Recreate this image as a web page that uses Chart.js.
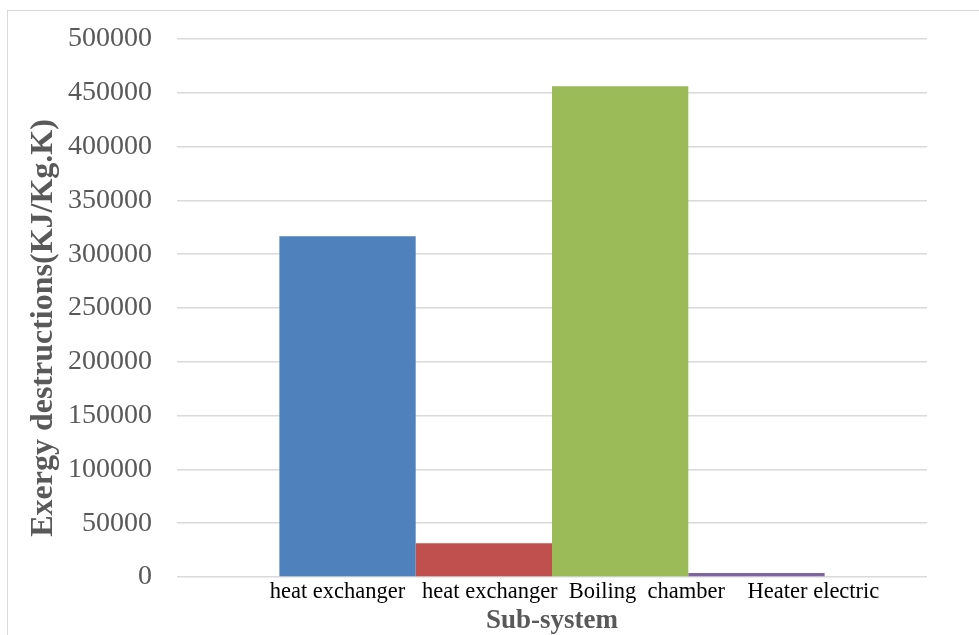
<!DOCTYPE html>
<html>
<head>
<meta charset="utf-8">
<script src="https://cdn.jsdelivr.net/npm/chart.js@4"></script>
<style>
  html, body { margin: 0; padding: 0; background: #fff; overflow: hidden; }
  #wrap { position: relative; width: 979px; height: 635px; }
  #frame { position: absolute; left: 7px; top: 10px; width: 990px; height: 660px;
           border: 1px solid #d9d9d9; pointer-events: none; }
</style>
</head>
<body>
<div id="wrap">
  <div id="frame"></div>
  <canvas id="chart" width="979" height="635"></canvas>
</div>
<script>
const subsystems = ['heat exchanger', 'heat exchanger', 'Boiling  chamber', 'Heater electric'];
const exergyDestruction = [316700, 31300, 456000, 3700];
const barColors = ['#4F81BD', '#C0504D', '#9BBB59', '#8064A2'];
const yMin = 0, yMax = 500000, yStep = 50000;

// all four bars sit in one category, names spelled out underneath
const categoryLabel = '        ' + subsystems[0] + '   ' + subsystems[1] + '  ' + subsystems[2] + '    ' + subsystems[3];

const serif = '"Liberation Serif", "Times New Roman", serif';

const datasets = subsystems.map((name, i) => ({
    label: name,
    data: [exergyDestruction[i]],
    backgroundColor: barColors[i],
    borderWidth: 0,
    categoryPercentage: 0.727,
    barPercentage: 1
}));

new Chart(document.getElementById('chart'), {
    type: 'bar',
    data: { labels: [categoryLabel], datasets: datasets },
    options: {
        responsive: false,
        animation: false,
        layout: { padding: { left: 0, top: 15, right: 52, bottom: 0 } },
        plugins: { legend: { display: false }, tooltip: { enabled: false } },
        scales: {
            x: {
                grid: { display: false, drawTicks: false },
                border: { display: false },
                ticks: {
                    color: '#000',
                    maxRotation: 0,
                    autoSkip: false,
                    padding: 4,
                    font: { family: serif, size: 22.5, lineHeight: 1 }
                },
                title: {
                    display: true,
                    text: 'Sub-system',
                    color: '#595959',
                    padding: { top: 0.5, bottom: 0 },
                    font: { family: serif, size: 27, weight: 'bold', lineHeight: 1 }
                }
            },
            y: {
                min: yMin,
                max: yMax,
                afterFit: (scale) => { scale.width = 177; },
                grid: { color: '#d9d9d9', lineWidth: 1.5, drawTicks: false },
                border: { display: false },
                ticks: {
                    stepSize: yStep,
                    color: '#595959',
                    padding: 25,
                    callback: (v) => String(v),
                    font: { family: serif, size: 28, lineHeight: 1 }
                },
                title: {
                    display: true,
                    text: 'Exergy destructions(KJ/Kg.K)     ',
                    color: '#595959',
                    padding: { top: 28, bottom: 0 },
                    font: { family: serif, size: 32, weight: 'bold', lineHeight: 1 }
                }
            }
        }
    }
});
</script>
</body>
</html>
